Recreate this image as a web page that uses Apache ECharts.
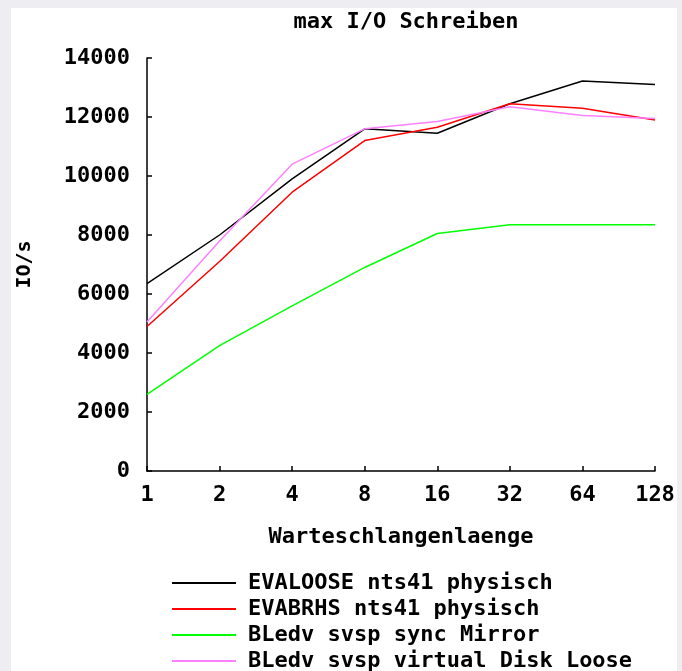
<html lang="en">
<head>
    <meta charset="UTF-8">
    <script src="https://cdn.jsdelivr.net/npm/echarts@6/dist/echarts.min.js"></script>
    <title>max I/O Schreiben</title>
    <style>
      body { margin: 0; background: #ededf2; overflow: hidden; }
      #paper { position: absolute; left: 11px; top: 8px; width: 666px; height: 663px; background: #fff; }
      #main { position: absolute; left: 0; top: 0; width: 682px; height: 720px; }
    </style>
</head>
<body>
<div id="paper"></div>
<div id="main"></div>
<script>
  // queue lengths (x axis)
  var queueLengths = ['1', '2', '4', '8', '16', '32', '64', '128'];

  // IO/s per series
  var evaloose = [6350, 8000, 9900, 11600, 11450, 12450, 13220, 13100];
  var evabrhs  = [4900, 7100, 9450, 11200, 11650, 12450, 12300, 11900];
  var syncMirror = [2600, 4250, 5600, 6900, 8050, 8350, 8350, 8350];
  var virtualDisk = [5050, 7800, 10400, 11600, 11850, 12350, 12050, 11950];

  var seriesNames = ['EVALOOSE nts41 physisch', 'EVABRHS nts41 physisch',
                     'BLedv svsp sync Mirror', 'BLedv svsp virtual Disk Loose'];
  var seriesData = [evaloose, evabrhs, syncMirror, virtualDisk];
  var colors = ['#000000', '#ff0000', '#00ff00', '#ff80ff'];

  var font = 'DejaVu Sans Mono';

  var myChart = echarts.init(document.getElementById('main'));

  var option = {
      animation: false,
      color: colors,
      title: {
          text: 'max I/O Schreiben',
          left: 401,
          top: 6,
          textAlign: 'center',
          textStyle: { fontFamily: font, fontWeight: 'bold', fontSize: 22, color: '#000' }
      },
      grid: { left: 147, top: 58, right: 27, bottom: 249 },
      legend: {
          orient: 'vertical',
          left: 172,
          top: 572,
          padding: 0,
          icon: 'rect',
          itemWidth: 64,
          itemHeight: 2,
          itemGap: 4,
          textStyle: { fontFamily: font, fontWeight: 'bold', fontSize: 22, color: '#000',
                       padding: [0, 0, 0, 7] },
          data: seriesNames
      },
      xAxis: {
          type: 'category',
          boundaryGap: false,
          data: queueLengths,
          name: 'Warteschlangenlaenge',
          nameLocation: 'middle',
          nameGap: 55,
          nameTextStyle: { fontFamily: font, fontWeight: 'bold', fontSize: 22, color: '#000' },
          axisLine: { lineStyle: { color: '#000', width: 1.5 } },
          axisTick: { inside: true, length: 5, alignWithLabel: true, lineStyle: { color: '#000', width: 1.5 } },
          axisLabel: { margin: 13, fontFamily: font, fontWeight: 'bold', fontSize: 22, color: '#000' },
          splitLine: { show: false }
      },
      yAxis: {
          type: 'value',
          min: 0,
          max: 14000,
          interval: 2000,
          name: 'IO/s',
          nameLocation: 'middle',
          nameGap: 112,
          nameRotate: 90,
          nameTextStyle: { fontFamily: font, fontWeight: 'bold', fontSize: 20, color: '#000' },
          axisLine: { show: true, lineStyle: { color: '#000', width: 1.5 } },
          axisTick: { show: true, inside: true, length: 5, lineStyle: { color: '#000', width: 1.5 } },
          axisLabel: { margin: 17, fontFamily: font, fontWeight: 'bold', fontSize: 22, color: '#000',
                       formatter: function (v) { return String(v); } },
          splitLine: { show: false }
      },
      series: seriesData.map(function (d, i) {
          return {
              name: seriesNames[i],
              type: 'line',
              data: d,
              showSymbol: false,
              symbol: 'none',
              lineStyle: { width: 1.5, color: colors[i] }
          };
      })
  };

  myChart.setOption(option);
</script>
</body>
</html>
